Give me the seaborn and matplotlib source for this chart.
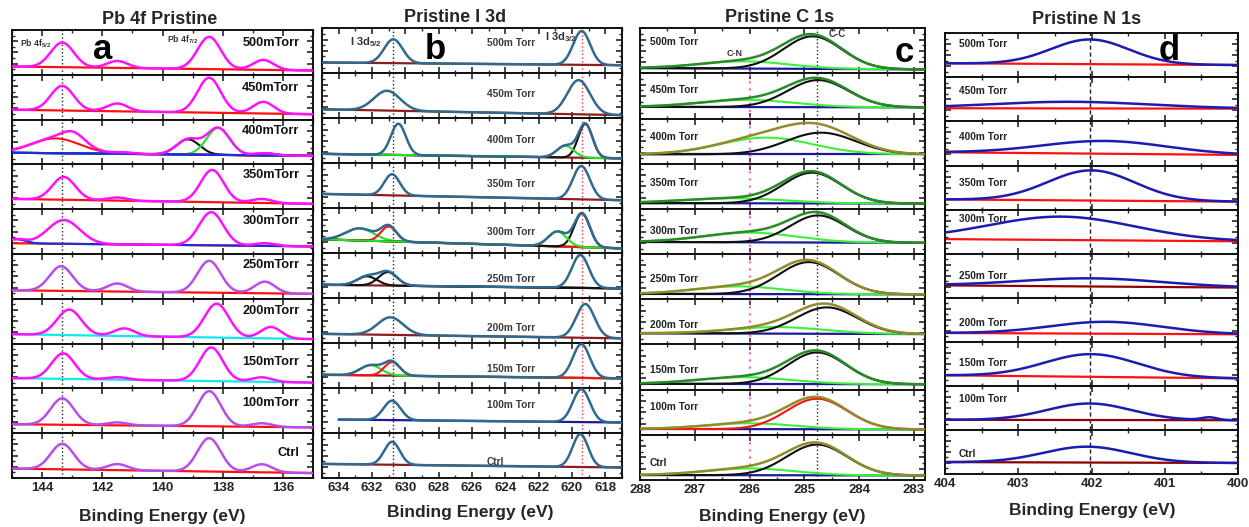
import numpy as np
import matplotlib
matplotlib.use("Agg")
import matplotlib.pyplot as plt
import seaborn as sns
from matplotlib.ticker import MultipleLocator, FormatStrFormatter

# ---------------- data ----------------
ROWS = ["500mTorr", "450mTorr", "400mTorr", "350mTorr", "300mTorr",
        "250mTorr", "200mTorr", "150mTorr", "100mTorr", "Ctrl"]
ROWS_SP = ["500m Torr", "450m Torr", "400m Torr", "350m Torr", "300m Torr",
           "250m Torr", "200m Torr", "150m Torr", "100m Torr", "Ctrl"]

# peaks: (centre eV, height in row-fraction, FWHM eV, component)
# component '-' = only part of the envelope, otherwise drawn on its own
PB_BASE_L = [0.185, 0.22, 0.26, 0.23, 0.24, 0.19, 0.21, 0.23, 0.20, 0.21]
PB_BASE_R = [0.096, 0.12, 0.19, 0.12, 0.17, 0.11, 0.10, 0.13, 0.13, 0.11]
PB_PEAKS = [
    [(143.33, .55, .9, '-'), (138.45, .72, .9, '-'), (141.5, .155, .8, '-'), (136.65, .22, .8, '-')],
    [(143.33, .55, .9, '-'), (138.45, .78, .9, '-'), (141.5, .175, .8, '-'), (136.65, .26, .8, '-')],
    [(143.55, .33, 1.9, 'r'), (142.95, .23, .9, '-'), (139.15, .34, .9, 'k'), (138.15, .60, .9, 'g'),
     (141.3, .03, .8, 'b'), (136.6, .05, .8, 'b')],
    [(143.28, .51, .9, '-'), (138.35, .72, .9, '-'), (141.5, .07, .8, '-'), (136.7, .09, .8, '-')],
    [(143.28, .53, 1.25, '-'), (138.38, .74, .95, '-'), (136.6, .06, .8, '-'), (144.85, .09, .7, 'b')],
    [(143.37, .55, .9, '-'), (138.45, .71, .9, '-'), (141.5, .18, .8, '-'), (136.6, .26, .8, '-')],
    [(143.10, .57, .95, '-'), (138.2, .755, .95, '-'), (141.27, .17, .8, '-'), (136.4, .255, .8, '-')],
    [(143.30, .57, .9, '-'), (138.38, .75, .9, '-'), (141.5, .055, .8, '-'), (136.7, .10, .8, '-')],
    [(143.33, .59, .9, '-'), (138.45, .785, .9, '-'), (141.5, .065, .8, '-'), (136.7, .08, .8, '-')],
    [(143.33, .57, .9, '-'), (138.45, .745, .9, '-'), (141.5, .135, .8, '-'), (136.7, .18, .8, '-')],
]
PB_ENV = ['m', 'm', 'm', 'm', 'm', 'v', 'm', 'm', 'v', 'v']
PB_BASE = ['r', 'r', 'r', 'r', 'r', 'r', 'c', 'c', 'r', 'r']

I3D_BASE_L = [0.24, 0.20, 0.21, 0.32, 0.31, 0.30, 0.21, 0.30, 0.31, 0.32]
I3D_BASE_R = [0.18, 0.07, 0.11, 0.18, 0.11, 0.22, 0.11, 0.22, 0.24, 0.24]
I3D_START = [635, 635, 635, 635, 635, 635, 635, 635, 634, 635]
I3D_PEAKS = [
    [(630.72, .53, 1.3, '-'), (619.42, .75, 1.2, '-')],
    [(631.1, .44, 1.85, '-'), (619.6, .76, 1.6, '-')],
    [(630.42, .695, 1.05, '-'), (619.2, .75, 1.0, 'k'), (620.4, .26, 1.2, 'g')],
    [(630.8, .47, 1.1, '-'), (619.44, .74, 1.2, '-')],
    [(632.74, .27, 2.0, 'g'), (631.0, .33, 1.1, 'r'), (619.4, .75, 1.1, 'k'), (620.88, .33, 1.3, 'g')],
    [(632.3, .20, 1.4, 'k'), (631.05, .30, 1.3, 'k'), (619.5, .73, 1.2, '-')],
    [(630.9, .39, 1.8, '-'), (619.2, .75, 1.3, '-')],
    [(632.08, .226, 1.5, 'g'), (630.8, .30, 1.1, 'r'), (619.44, .75, 1.2, '-')],
    [(630.8, .43, 1.2, '-'), (619.44, .73, 1.2, '-')],
    [(630.8, .51, 1.1, '-'), (619.5, .73, 1.1, '-')],
]
I3D_ENV = ['s'] * 10
I3D_BASE = ['br', 'br', 'br', 'br', 'br', 'br', 'br', 'br', 'n', 'br']

C1S_BASE_L = [0.12, 0.26, 0.21, 0.13, 0.27, 0.12, 0.25, 0.13, 0.13, 0.11]
C1S_BASE_R = [0.09, 0.25, 0.21, 0.12, 0.25, 0.11, 0.23, 0.12, 0.12, 0.10]
C1S_PEAKS = [
    [(286.1, .16, 1.9, 'l'), (284.85, .72, 1.25, 'k')],
    [(286.05, .16, 2.0, 'l'), (284.75, .60, 1.3, 'k')],
    [(285.7, .37, 2.0, 'l'), (284.7, .48, 1.5, 'k')],
    [(286.3, .11, 2.2, 'l'), (284.86, .68, 1.25, 'k')],
    [(286.0, .215, 2.0, 'l'), (284.75, .60, 1.2, 'k')],
    [(286.2, .17, 1.9, 'l'), (284.92, .71, 1.3, 'k')],
    [(285.5, .145, 2.0, 'l'), (284.59, .585, 1.3, 'k')],
    [(286.1, .15, 2.0, 'l'), (284.77, .70, 1.25, 'k')],
    [(286.0, .13, 1.9, 'l'), (284.77, .675, 1.3, 'r')],
    [(286.0, .15, 1.9, 'l'), (284.77, .68, 1.3, 'k')],
]
C1S_ENV = ['dg', 'dg', 'o', 'dg', 'dg', 'o', 'o', 'dg', 'o', 'o']
C1S_BASE = ['n'] * 10

N1S_BASE_L = [0.32, 0.30, 0.30, 0.23, 0.33, 0.28, 0.20, 0.24, 0.23, 0.27]
N1S_BASE_R = [0.28, 0.29, 0.24, 0.18, 0.28, 0.23, 0.17, 0.17, 0.22, 0.25]
N1S_PEAKS = [
    [(402.02, .56, 1.25, '-')],
    [(402.3, .15, 2.6, '-')],
    [(401.82, .29, 2.0, '-')],
    [(402.0, .685, 1.4, '-')],
    [(402.41, .53, 2.35, '-')],
    [(402.0, .185, 2.3, '-')],
    [(401.8, .27, 1.8, '-')],
    [(402.0, .515, 1.5, '-')],
    [(402.03, .375, 1.35, '-'), (400.39, .06, .25, '-')],
    [(402.06, .36, 1.4, '-')],
]
N1S_ENV = ['nb'] * 10
N1S_BASE = ['r', 'r', 'r', 'r', 'r', 'd', 'r', 'r', 'd', 'd']

# ---------------- styles ----------------
COLORS = {'m': '#FF10FF', 'v': '#B84EEA', 'r': '#FF1010', 'c': '#10E8F0', 'g': '#22E022',
          'k': '#101010', 'b': '#1530E0', 's': '#2F6A8E', 'br': '#8E1C1C', 'n': '#1A1A9A',
          'l': '#3CF03C', 'dg': '#2A8A2A', 'o': '#8F8C2A', 'nb': '#1C1CB0', 'd': '#900000'}

sns.set_style("ticks")
plt.rcParams['font.family'] = ['Liberation Sans', 'DejaVu Sans']
plt.rcParams['mathtext.fontset'] = 'custom'
plt.rcParams['mathtext.rm'] = 'Liberation Sans:bold'
plt.rcParams['mathtext.bf'] = 'Liberation Sans:bold'
plt.rcParams['mathtext.default'] = 'bf'

FW, FH = 1249, 527
fig = plt.figure(figsize=(FW / 100, FH / 100), dpi=100)


def gauss(x, c, h, w):
    return h * np.exp(-4 * np.log(2) * (x - c) ** 2 / w ** 2)


def add_px_axes(l, t, r, b):
    return fig.add_axes([l / FW, 1 - b / FH, (r - l) / FW, (b - t) / FH])


panels = [
    dict(rect=(12, 30, 313, 478), xlim=(145, 135), major=2, minor=1,
         bl=PB_BASE_L, br=PB_BASE_R, peaks=PB_PEAKS, env=PB_ENV, base=PB_BASE,
         start=[145] * 10, labels=ROWS, lab_x=135.45, lab_ha='right', lab_size=9.2, lab_col='#111111',
         lab_y=[0.70, 0.70, 0.75, 0.76, 0.73, 0.76, 0.73, 0.60, 0.67, 0.56],
         vlines=[(143.33, '#222222', 1.0, ':', 1.0)]),
    dict(rect=(322, 28.3, 622, 478.3), xlim=(635, 617), major=2, minor=1,
         bl=I3D_BASE_L, br=I3D_BASE_R, peaks=I3D_PEAKS, env=I3D_ENV, base=I3D_BASE,
         start=I3D_START, labels=ROWS_SP, lab_x=625.1, lab_ha='left', lab_size=7.3, lab_col='#3a3a3a',
         lab_y=[0.67, 0.53, 0.52, 0.53, 0.47, 0.42, 0.33, 0.42, 0.62, 0.36],
         vlines=[(630.75, '#222222', 1.0, ':', 1.0), (619.42, '#FF3030', 1.0, ':', 1.0)]),
    dict(rect=(640, 28.3, 925, 480), xlim=(288, 282.8), major=1, minor=0.5,
         bl=C1S_BASE_L, br=C1S_BASE_R, peaks=C1S_PEAKS, env=C1S_ENV, base=C1S_BASE,
         start=[288] * 10, labels=ROWS_SP, lab_x=287.82, lab_ha='left', lab_size=7.3, lab_col='#222222',
         lab_y=[0.70, 0.63, 0.60, 0.57, 0.51, 0.45, 0.44, 0.44, 0.61, 0.37],
         vlines=[(284.77, '#222222', 1.0, ':', 1.0), (286.0, '#FF66CC', 1.6, (0, (1, 2.2)), 0.32)]),
    dict(rect=(945, 33.3, 1238, 474), xlim=(404, 400), major=1, minor=0.5,
         bl=N1S_BASE_L, br=N1S_BASE_R, peaks=N1S_PEAKS, env=N1S_ENV, base=N1S_BASE,
         start=[404] * 10, labels=ROWS_SP, lab_x=403.81, lab_ha='left', lab_size=7.3, lab_col='#222222',
         lab_y=[0.75, 0.68, 0.65, 0.61, 0.78, 0.50, 0.42, 0.53, 0.71, 0.46],
         vlines=[(402.02, '#222222', 1.0, (0, (3, 2)), 1.0)]),
]

all_axes = []
for p in panels:
    l, t, r, b = p['rect']
    n = len(p['labels'])
    hrow = (b - t) / n
    x0, x1 = p['xlim']
    p_axes = []
    for i in range(n):
        ax = add_px_axes(l, t + i * hrow, r, t + (i + 1) * hrow)
        xs = np.linspace(p['start'][i], x1, 800)
        base = p['bl'][i] + (p['br'][i] - p['bl'][i]) * (x0 - xs) / (x0 - x1)
        total = base.copy()
        for (c, h, w, comp) in p['peaks'][i]:
            total = total + gauss(xs, c, h, w)
        # vertical reference lines (the first row may stop below its annotation)
        for (xv, col, lw, ls, ytop) in p['vlines']:
            ax.axvline(xv, ymin=0, ymax=(ytop if i == 0 else 1.0), color=col, lw=lw, ls=ls, zorder=1)
        sns.lineplot(x=xs, y=base, ax=ax, color=COLORS[p['base'][i]], lw=1.6,
                     sort=False, estimator=None, errorbar=None, zorder=2)
        for (c, h, w, comp) in p['peaks'][i]:
            if comp == '-':
                continue
            sns.lineplot(x=xs, y=base + gauss(xs, c, h, w), ax=ax, color=COLORS[comp], lw=1.5,
                         sort=False, estimator=None, errorbar=None, zorder=3)
        sns.lineplot(x=xs, y=total, ax=ax, color=COLORS[p['env'][i]], lw=1.8,
                     sort=False, estimator=None, errorbar=None, zorder=4)
        ax.set_xlim(x0, x1)
        ax.set_ylim(0, 1)
        ax.set_xlabel('')
        ax.set_ylabel('')
        ax.xaxis.set_major_locator(MultipleLocator(p['major']))
        ax.xaxis.set_minor_locator(MultipleLocator(p['minor']))
        ax.xaxis.set_major_formatter(FormatStrFormatter('%d'))
        ax.yaxis.set_major_locator(MultipleLocator(0.25))
        ax.yaxis.set_minor_locator(MultipleLocator(0.125))
        ax.tick_params(which='both', direction='in', top=True, right=True, bottom=True, left=True,
                       labelleft=False, labelbottom=(i == n - 1), pad=3)
        ax.tick_params(which='major', length=4, width=1.2, labelsize=9.5)
        ax.tick_params(which='minor', length=2.5, width=1.0)
        for lab in ax.get_xticklabels():
            lab.set_fontweight('bold')
        for s in ax.spines.values():
            s.set_linewidth(1.4)
            s.set_color('#111111')
        ax.text(p['lab_x'], p['lab_y'][i], p['labels'][i], transform=ax.get_xaxis_transform(),
                ha=p['lab_ha'], va='center', fontsize=p['lab_size'], fontweight='bold',
                color=p['lab_col'], zorder=6)
        p_axes.append(ax)
    all_axes.append(p_axes)

# annotations
axa, axb, axc, axd = all_axes[0][0], all_axes[1][0], all_axes[2][0], all_axes[3][0]
tr = lambda ax: ax.get_xaxis_transform()
axa.text(144.75, 0.69, r'Pb 4f$_{5/2}$', transform=tr(axa), fontsize=6.2, fontweight='bold',
         color='#333333', va='center', ha='left', zorder=6)
axa.text(139.85, 0.78, r'Pb 4f$_{7/2}$', transform=tr(axa), fontsize=6.2, fontweight='bold',
         color='#333333', va='center', ha='left', zorder=6)
axb.text(633.3, 0.70, r'I 3d$_{5/2}$', transform=tr(axb), fontsize=8, fontweight='bold',
         color='#333333', va='center', ha='left', zorder=6)
axb.text(621.6, 0.80, r'I 3d$_{3/2}$', transform=tr(axb), fontsize=8, fontweight='bold',
         color='#333333', va='center', ha='left', zorder=6)
axc.text(286.42, 0.45, 'C-N', transform=tr(axc), fontsize=6.5, fontweight='bold',
         color='#333333', va='center', ha='left', zorder=6)
axc.text(284.55, 0.87, 'C-C', transform=tr(axc), fontsize=7, fontweight='bold',
         color='#333333', va='center', ha='left', zorder=6)

for ax, xl, yl, s in [(axa, 142.0, 0.56, 'a'), (axb, 628.2, 0.52, 'b'),
                      (axc, 283.18, 0.47, 'c'), (axd, 400.94, 0.62, 'd')]:
    ax.text(xl, yl, s, transform=tr(ax), fontsize=25, fontweight='heavy', color='black',
            ha='center', va='center', zorder=7)

# titles and axis labels (pixel positions)
for (xp, yp, s) in [(160, 20, 'Pb 4f Pristine'), (455, 17, 'Pristine I 3d'),
                    (780, 17, 'Pristine C 1s'), (1087, 20, 'Pristine N 1s')]:
    fig.text(xp / FW, 1 - yp / FH, s, ha='center', va='center', fontsize=13, fontweight='bold')
for (xp, yp) in [(162, 516), (470, 512), (782, 517), (1092, 510)]:
    fig.text(xp / FW, 1 - yp / FH, 'Binding Energy (eV)', ha='center', va='center',
             fontsize=12.5, fontweight='bold')

fig.savefig('out.png', dpi=100, facecolor='white')
